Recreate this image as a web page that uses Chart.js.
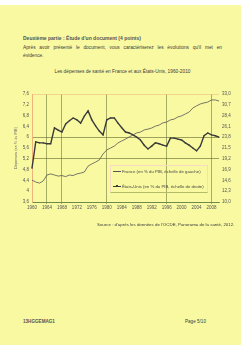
<!DOCTYPE html>
<html>
<head>
<meta charset="utf-8">
<script src="https://cdn.jsdelivr.net/npm/chart.js@4.4.1/dist/chart.umd.min.js"></script>
<style>
  html, body { margin: 0; padding: 0; width: 248px; height: 351px; overflow: hidden; background: #fff;
    font-family: "Liberation Sans", Arial, sans-serif; color: #3a3a3a; }
  #page { position: absolute; left: 0; top: 5px; width: 241px; height: 340px; background: #f9f9a2; }
  .t { position: absolute; white-space: nowrap; line-height: 1; }
  #chartBox { position: absolute; left: 14px; top: 85px; width: 234px; height: 130px; }
  #legend { position: absolute; left: 110px; top: 165px; width: 96px; height: 26px; color: #444;
    border: 1px solid #f6dcc0; border-bottom: 1px solid #b4bc6a; font-size: 4.3px; }
  #legend .row { position: absolute; left: 2px; white-space: nowrap; line-height: 1; }
  #legend .sw { display: inline-block; width: 8px; vertical-align: middle; margin-right: 1px; position: relative; }
</style>
</head>
<body>
<div id="page"></div>

<div class="t" style="left:23px;top:35.5px;font-size:5px;font-weight:bold;color:#555">Deuxième partie : Étude d'un document (4 points)</div>
<div class="t" style="left:23px;top:45.5px;width:199px;font-size:4.8px;text-align:justify;text-align-last:justify">Après avoir présenté le document, vous caractériserez les évolutions qu'il met en</div>
<div class="t" style="left:23px;top:53.5px;font-size:4.8px">évidence.</div>
<div class="t" style="left:0;width:245px;top:69.5px;font-size:4.8px;text-align:center">Les dépenses de santé en France et aux États-Unis, 1960-2010</div>

<div id="chartBox"><canvas id="chartHealth"></canvas></div>

<div id="legend">
  <div class="row" style="top:4px"><span class="sw" style="border-top:0.8px solid #555"></span>France (en % du PIB, échelle de gauche)</div>
  <div class="row" style="top:19px"><span class="sw" style="border-top:1.4px solid #3a3a3a"><span style="position:absolute;left:3px;top:-2.2px;width:2.2px;height:2.2px;background:#3a3a3a"></span></span>États-Unis (en % du PIB, échelle de droite)</div>
</div>

<div class="t" style="left:97px;top:223px;font-size:4.4px">Source : d'après les données de l'OCDE, Panorama de la santé, 2012.</div>

<div class="t" style="left:23px;top:320px;font-size:4.6px;font-weight:bold;color:#555">13HGGEMAG1</div>
<div class="t" style="left:185px;top:320px;font-size:4.6px">Page 5/10</div>

<script>
document.addEventListener('DOMContentLoaded', function () {
  const years = [
    '1960', '1961', '1962', '1963', '1964', '1965', '1966', '1967', '1968', '1969',
    '1970', '1971', '1972', '1973', '1974', '1975', '1976', '1977', '1978', '1979',
    '1980', '1981', '1982', '1983', '1984', '1985', '1986', '1987', '1988', '1989',
    '1990', '1991', '1992', '1993', '1994', '1995', '1996', '1997', '1998', '1999',
    '2000', '2001', '2002', '2003', '2004', '2005', '2006', '2007', '2008', '2009', '2010'
  ];
  const shownYears = ['1960', '1964', '1968', '1972', '1976', '1980', '1984', '1988',
    '1992', '1996', '2000', '2004', '2008'];
  const gridYears = ['1964', '1968', '1980', '1996', '2008'];

  // France, échelle de gauche
  const france = [
    4.41, 4.34, 4.30, 4.38, 4.60, 4.64, 4.60, 4.56, 4.58, 4.54,
    4.60, 4.58, 4.64, 4.67, 4.71, 4.93, 5.01, 5.08, 5.16, 5.38,
    5.53, 5.60, 5.67, 5.79, 5.86, 5.93, 6.01, 6.08, 6.16, 6.19,
    6.27, 6.30, 6.34, 6.41, 6.45, 6.53, 6.56, 6.64, 6.67, 6.75,
    6.79, 6.86, 6.93, 7.08, 7.16, 7.23, 7.27, 7.30, 7.38, 7.38, 7.34
  ];
  // États-Unis, échelle de droite
  const etatsUnis = [
    17.2, 22.8, 22.6, 22.6, 22.4, 22.4, 25.8, 25.3, 24.9, 26.6,
    27.3, 27.9, 27.5, 26.8, 28.3, 29.4, 27.5, 26.2, 25.1, 24.3,
    27.5, 27.9, 27.9, 26.8, 25.8, 24.9, 24.7, 24.3, 23.8, 23.2,
    22.1, 21.3, 21.9, 22.6, 22.4, 22.1, 21.9, 23.6, 23.6, 23.4,
    23.2, 22.6, 22.1, 21.5, 20.9, 21.9, 24.1, 24.7, 24.3, 24.1, 23.8
  ];
  const leftTicks = { min: 3.6, max: 7.6, step: 0.4 };
  const rightTicks = { min: 10, max: 33, step: 2.3 };
  const leftGridLines = [5.2, 6.0];

  const fr = v => String(v).replace('.', ',');
  const tickFont = { family: 'Liberation Sans', size: 4.5 };

  new Chart(document.getElementById('chartHealth'), {
    type: 'line',
    data: {
      labels: years,
      datasets: [
        { label: 'France', data: france, yAxisID: 'y', borderColor: '#555', borderWidth: 0.8,
          pointRadius: 0, tension: 0 },
        { label: 'États-Unis', data: etatsUnis, yAxisID: 'y1', borderColor: '#3a3a3a', borderWidth: 1.4,
          pointStyle: 'rect', pointRadius: 0.8, pointBackgroundColor: '#3a3a3a', pointBorderWidth: 0, tension: 0 },
      ],
    },
    options: {
      responsive: true,
      maintainAspectRatio: false,
      animation: false,
      layout: { padding: { top: 9, left: 0, right: 0, bottom: 0 } },
      plugins: { legend: { display: false }, tooltip: { enabled: false } },
      scales: {
        x: {
          afterFit: s => { s.height = 13; },
          grid: {
            color: c => (c.tick && gridYears.includes(years[c.index])) ? '#6f7a3a' : 'rgba(0,0,0,0)',
            borderDash: [1, 1.2], lineWidth: 0.6, tickLength: 2, drawTicks: true,
          },
          border: { color: '#6f8a4a', width: 1 },
          ticks: {
            autoSkip: false, maxRotation: 0, padding: 1, color: '#555', font: tickFont,
            callback: function (v, i) { return shownYears.includes(years[i]) ? years[i] : ''; },
          },
        },
        y: {
          position: 'left',
          min: leftTicks.min, max: leftTicks.max,
          afterFit: s => { s.width = 18; },
          title: { display: true, text: 'Dépenses (en % du PIB)', padding: 0, color: '#666',
            font: { family: 'Liberation Sans', size: 3.8 } },
          grid: {
            drawTicks: false, lineWidth: 0.6, borderDash: [1, 1.2],
            color: c => {
              const v = c.tick ? Math.round(c.tick.value * 10) / 10 : null;
              if (v === leftTicks.max) return '#ebbc80';
              return leftGridLines.includes(v) ? '#5c6430' : 'rgba(0,0,0,0)';
            },
          },
          border: { color: '#f0b478', width: 1 },
          ticks: {
            stepSize: leftTicks.step, padding: 3, color: '#555', font: tickFont,
            callback: v => fr(Math.round(v * 10) / 10),
          },
        },
        y1: {
          position: 'right',
          min: rightTicks.min, max: rightTicks.max,
          afterFit: s => { s.width = 29; },
          grid: { display: false, drawTicks: false },
          border: { display: false },
          ticks: {
            stepSize: rightTicks.step, padding: 3, color: '#555', font: tickFont,
            callback: v => fr((Math.round(v * 10) / 10).toFixed(1)),
          },
        },
      },
    },
  });
});
</script>
</body>
</html>
